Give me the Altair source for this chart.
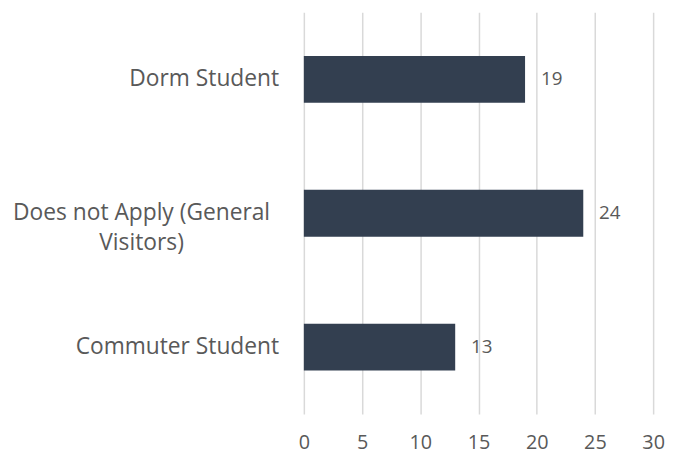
import altair as alt
import pandas as pd

categories = ["Dorm Student", "Does not Apply (General Visitors)", "Commuter Student"]
values = [19, 24, 13]
x_ticks = [0, 5, 10, 15, 20, 25, 30]

df = pd.DataFrame({"cat": categories, "val": values})
df["multi"] = df["cat"].str.len() > 20

FONT = "Open Sans"
GRAY = "#595959"

y_enc = alt.Y("cat:N", sort=categories, axis=None,
              scale=alt.Scale(paddingInner=0.65, paddingOuter=0.325))

base = alt.Chart(df)

bars = base.mark_bar(color="#333f50").encode(
    x=alt.X("val:Q", scale=alt.Scale(domain=[0, 30], nice=False),
            axis=alt.Axis(values=x_ticks, title=None, domain=False, ticks=False,
                          grid=True, gridColor="#d9d9d9", gridWidth=1.5,
                          labelFont=FONT, labelFontSize=20, labelColor=GRAY,
                          labelPadding=19, labelFlush=False)),
    y=y_enc,
)

vals = base.mark_text(align="left", baseline="middle", dx=16, font=FONT,
                      fontSize=19, color=GRAY).encode(
    x="val:Q", y=y_enc, text="val:Q")

single = base.transform_filter("!datum.multi").mark_text(
    align="right", baseline="middle", font=FONT, fontSize=23, color=GRAY
).encode(x=alt.value(-25), y=y_enc, text="cat:N")

multi = base.transform_filter("datum.multi").transform_calculate(
    lines="['Does not Apply (General', 'Visitors)']"
).mark_text(
    align="center", baseline="middle", font=FONT, fontSize=23, color=GRAY,
    lineHeight=30
).encode(x=alt.value(-164), y=y_enc, text="lines:N")

chart = alt.layer(bars, vals, single, multi).properties(
    width=353, height=406,
    autosize=alt.AutoSizeParams(type="none"),
    padding={"left": 299, "top": 2, "right": 12, "bottom": 44},
).configure_view(stroke=None)

chart.save("out.html", embed_options={"renderer": "svg", "actions": False})
